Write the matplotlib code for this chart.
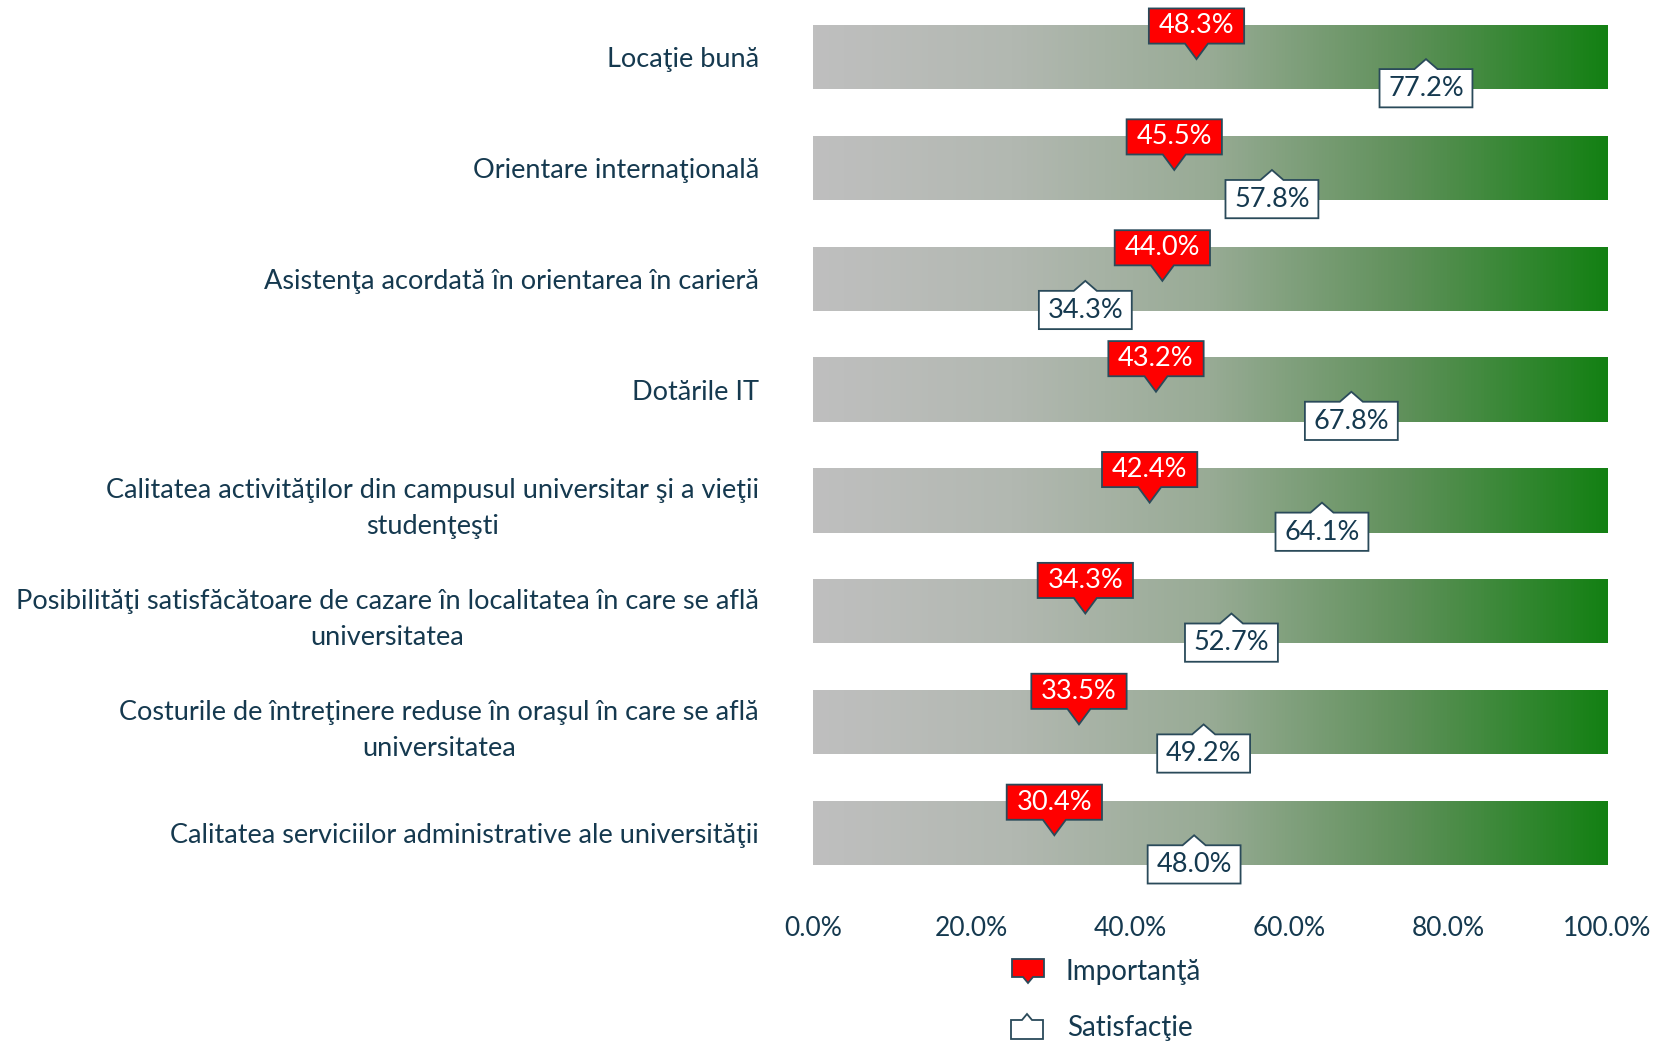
import numpy as np
import matplotlib
matplotlib.use("Agg")
import matplotlib.pyplot as plt
from matplotlib.colors import LinearSegmentedColormap
from matplotlib.patches import Polygon

plt.rcParams['font.family'] = ['Lato', 'DejaVu Sans']

categories = [
    "Locaţie bună",
    "Orientare internaţională",
    "Asistenţa acordată în orientarea în carieră",
    "Dotările IT",
    "Calitatea activităţilor din campusul universitar şi a vieţii\nstudenţeşti",
    "Posibilităţi satisfăcătoare de cazare în localitatea în care se află\nuniversitatea",
    "Costurile de întreţinere reduse în oraşul în care se află\nuniversitatea",
    "Calitatea serviciilor administrative ale universităţii",
]
importanta = [48.3, 45.5, 44.0, 43.2, 42.4, 34.3, 33.5, 30.4]
satisfactie = [77.2, 57.8, 34.3, 67.8, 64.1, 52.7, 49.2, 48.0]
ticks = [0, 20, 40, 60, 80, 100]

navy = "#15394f"
edge = "#2a4a5a"

fig = plt.figure(figsize=(16.53, 10.42), dpi=100)
ax = fig.add_axes([0.4918, 0.1473, 0.4804, 0.8513])

cmap = LinearSegmentedColormap.from_list("g", [
    (0.0, "#bfbfbf"), (0.25, "#b2b8b1"), (0.5, "#98ab95"),
    (0.75, "#5e9059"), (1.0, "#138013")])
grad = np.linspace(0, 1, 256).reshape(1, -1)

y = np.arange(len(categories))
bars = ax.barh(y, [100] * len(y), height=0.58, color="none", edgecolor="none")
for b in bars:
    x0, y0 = b.get_x(), b.get_y()
    im = ax.imshow(grad, cmap=cmap, aspect="auto",
                   extent=[x0, x0 + b.get_width(), y0 + b.get_height(), y0],
                   zorder=1)
    im.set_clip_path(b)

hw = 6.0   # half width of callout box (%)
pw = 1.45  # half width of pointer base
for i in range(len(y)):
    v = importanta[i]
    pts = [(v - hw, i - 0.437), (v + hw, i - 0.437), (v + hw, i - 0.12),
           (v + pw, i - 0.12), (v, i + 0.02), (v - pw, i - 0.12), (v - hw, i - 0.12)]
    ax.add_patch(Polygon(pts, closed=True, facecolor="#ff0000", edgecolor=edge,
                         lw=1.3, zorder=3))
    ax.text(v, i - 0.28, f"{v:.1f}%", color="white", fontsize=19.5,
            ha="center", va="center", zorder=4)

    s = satisfactie[i]
    hs = 5.85
    pts = [(s - hs, i + 0.455), (s + hs, i + 0.455), (s + hs, i + 0.11),
           (s + pw, i + 0.11), (s, i + 0.02), (s - pw, i + 0.11), (s - hs, i + 0.11)]
    ax.add_patch(Polygon(pts, closed=True, facecolor="white", edgecolor=edge,
                         lw=1.3, zorder=3))
    ax.text(s, i + 0.285, f"{s:.1f}%", color=navy, fontsize=19.5,
            ha="center", va="center", zorder=4)

ax.set_xlim(0, 100)
ax.set_ylim(len(y) - 0.5, -0.5)
ax.set_xticks(ticks)
ax.set_xticklabels([f"{t:.1f}%" for t in ticks], fontsize=19, color=navy)
ax.set_yticks(y)
ax.set_yticklabels(categories, fontsize=19.5, color=navy,
                   multialignment="center", linespacing=1.55)
ax.tick_params(axis="both", length=0)
ax.tick_params(axis="x", pad=20)
ax.tick_params(axis="y", pad=39)
for sp in ax.spines.values():
    sp.set_visible(False)

# legend
W, H = 1653.0, 1042.0
def fp(px, py):
    return (px / W, 1 - py / H)

red_marker = [fp(1012, 959), fp(1044, 959), fp(1044, 977), fp(1033, 977),
              fp(1028, 983), fp(1023, 977), fp(1012, 977)]
fig.add_artist(Polygon(red_marker, closed=True, facecolor="#ff0000",
                       edgecolor=edge, lw=1.3, transform=fig.transFigure))
fig.text(*fp(1065, 972), "Importanţă", fontsize=20, color=navy, va="center")

white_marker = [fp(1011, 1039), fp(1043, 1039), fp(1043, 1020), fp(1032, 1020),
                fp(1027, 1014), fp(1022, 1020), fp(1011, 1020)]
fig.add_artist(Polygon(white_marker, closed=True, facecolor="white",
                       edgecolor=edge, lw=1.3, transform=fig.transFigure))
fig.text(*fp(1067, 1028), "Satisfacţie", fontsize=20, color=navy, va="center")

fig.savefig("out.png", dpi=100)
